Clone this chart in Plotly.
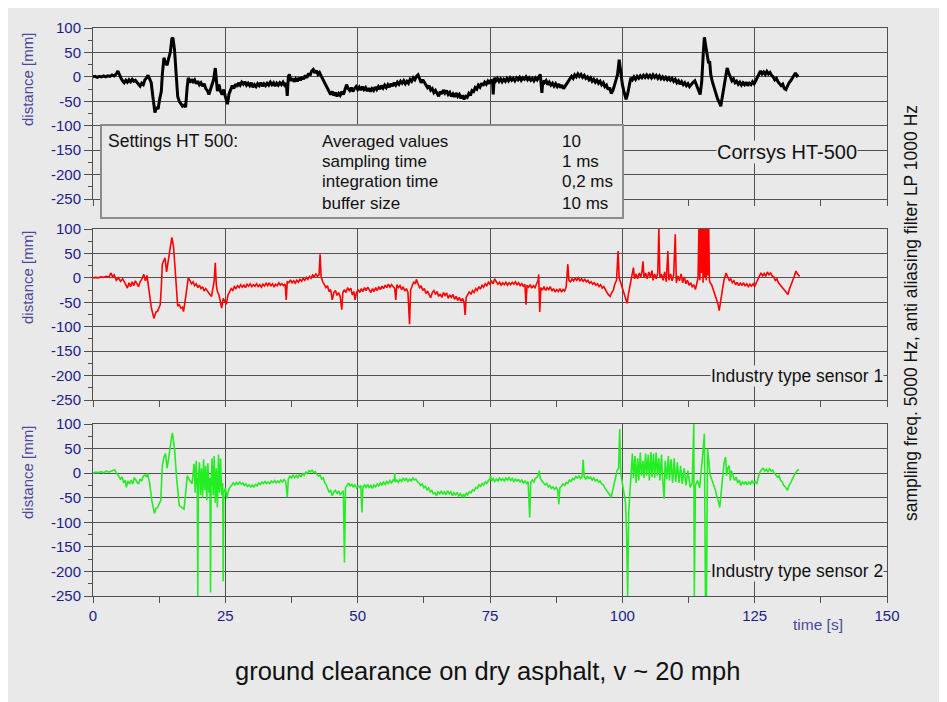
import plotly.graph_objects as go

# ---------------- data (time [s], distance [mm]) ----------------
ht500 = [(0,0),(0.4,1),(0.8,-1),(1.2,1),(1.6,0),(2,2),(2.4,0),(2.8,2),(3.2,1),(3.6,4),(4,2),(4.4,6),(4.7,12),
 (5,2),(5.3,-3),(5.6,-8),(5.9,-12),(6.2,-7),(6.5,-11),(6.8,-6),(7.1,-10),(7.4,-5),(7.7,-9),(8,-7),(8.3,-12),
 (8.6,-15),(8.9,-19),(9.2,-13),(9.5,-16),(9.8,-6),(10.1,-2),(10.4,3),(10.7,-4),(11,-12),(11.3,-40),(11.7,-73),
 (12,-62),(12.3,-66),(12.6,-45),(12.9,-30),(13.1,5),(13.4,39),(13.7,28),(14,24),(14.3,38),(14.6,50),(14.9,78),
 (15.1,80),(15.4,55),(15.7,15),(16,-40),(16.3,-50),(16.6,-56),(16.9,-60),(17.2,-58),(17.5,-62),(17.8,-20),
 (18,-2),(18.3,-12),(18.6,-5),(18.9,-10),(19.2,-6),(19.5,-14),(19.8,-9),(20.1,-16),(20.4,-12),(20.7,-19),
 (21,-14),(21.3,-24),(21.6,-28),(21.9,-36),(22.2,-25),(22.5,-15),(22.8,-5),(23.1,18),(23.3,-10),(23.5,-29),
 (23.8,-16),(24.1,-30),(24.4,-36),(24.7,-26),(25,-40),(25.4,-56),(25.7,-35),(26,-26),(26.3,-18),(26.6,-24),
 (26.9,-15),(27.2,-20),(27.5,-12),(27.8,-17),(28.1,-11),(28.4,-15),(28.7,-10),(29,-17),(29.3,-13),(29.6,-18),
 (29.9,-12),(30.2,-21),(30.5,-16),(30.8,-20),(31.1,-14),(31.4,-18),(31.7,-12),(32,-19),(32.3,-14),(32.6,-18),
 (32.9,-13),(33.2,-17),(33.5,-11),(33.8,-16),(34.1,-12),(34.4,-19),(34.7,-13),(35,-17),(35.3,-12),(35.6,-16),
 (35.9,-11),(36.2,-17),(36.5,-13),(36.7,-39),(36.9,0),(37.1,5),(37.4,-8),(37.7,-3),(38,-10),(38.3,-4),(38.6,-9),
 (38.9,-2),(39.2,-7),(39.5,0),(39.8,-5),(40.1,3),(40.4,-2),(40.7,7),(41,3),(41.3,12),(41.6,15),(41.9,8),
 (42.2,13),(42.5,5),(42.8,9),(43.1,2),(43.4,-5),(43.7,-12),(44,-18),(44.3,-26),(44.6,-30),(44.9,-36),(45.2,-30),
 (45.5,-38),(45.8,-32),(46.1,-40),(46.4,-34),(46.7,-38),(47,-30),(47.3,-36),(47.6,-25),(47.9,-16),(48.2,-24),
 (48.5,-28),(48.8,-22),(49.1,-30),(49.4,-24),(49.7,-20),(50,-26),(50.3,-21),(50.6,-27),(50.9,-20),(51.2,-26),
 (51.5,-22),(51.8,-29),(52.1,-23),(52.4,-30),(52.7,-24),(53,-28),(53.3,-21),(53.6,-26),(53.9,-20),(54.2,-25),
 (54.5,-18),(54.8,-23),(55.1,-17),(55.4,-22),(55.7,-16),(56,-21),(56.3,-14),(56.6,-19),(56.9,-12),(57.2,-17),
 (57.5,-11),(57.8,-15),(58.1,-9),(58.4,-13),(58.7,-8),(59,-14),(59.3,-9),(59.6,-13),(59.9,-5),(60.2,-9),
 (60.5,-2),(60.8,-6),(61.1,1),(61.4,4),(61.7,-4),(62,-12),(62.3,-6),(62.6,-12),(62.9,-16),(63.2,-22),(63.5,-18),
 (63.8,-27),(64.1,-24),(64.4,-32),(64.7,-28),(65,-36),(65.3,-40),(65.6,-30),(65.9,-35),(66.2,-27),(66.5,-33),
 (66.8,-28),(67.1,-36),(67.4,-32),(67.7,-40),(68,-35),(68.3,-41),(68.6,-33),(68.9,-40),(69.2,-36),(69.5,-44),
 (69.8,-38),(70.1,-46),(70.4,-40),(70.7,-42),(71,-34),(71.3,-38),(71.6,-28),(71.9,-30),(72.2,-22),(72.5,-25),
 (72.8,-17),(73.1,-21),(73.4,-13),(73.7,-18),(74,-11),(74.3,-15),(74.6,-9),(74.9,-14),(75.2,-6),(75.5,-12),
 (75.6,-36),(75.8,-2),(76.1,-8),(76.4,-3),(76.7,-9),(77,-4),(77.3,-10),(77.6,-5),(77.9,-9),(78.2,-3),(78.5,-8),
 (78.8,-2),(79.1,-7),(79.4,-3),(79.7,-8),(80,-2),(80.3,-6),(80.6,-1),(80.9,-7),(81.2,-2),(81.5,-5),(81.8,0),
 (82.1,-6),(82.4,-2),(82.7,-7),(83,-3),(83.3,-8),(83.6,-2),(83.9,-6),(84.2,-1),(84.5,5),(84.8,-33),(85,-8),
 (85.3,-12),(85.6,-8),(85.9,-16),(86.2,-11),(86.5,-17),(86.8,-13),(87.1,-19),(87.4,-14),(87.7,-20),(88,-15),
 (88.3,-22),(88.6,-17),(88.9,-24),(89.2,-19),(89.5,-14),(89.8,-8),(90.1,-3),(90.4,1),(90.7,-3),(91,4),(91.3,0),
 (91.6,6),(91.9,1),(92.2,5),(92.5,-1),(92.8,3),(93.1,-3),(93.4,0),(93.7,-6),(94,-2),(94.3,-9),(94.6,-5),
 (94.9,-11),(95.2,-7),(95.5,-13),(95.8,-9),(96.1,-16),(96.4,-12),(96.7,-20),(97,-17),(97.3,-26),(97.6,-22),
 (97.9,-34),(98.2,-28),(98.5,-18),(98.8,-8),(99.1,5),(99.4,35),(99.7,5),(100,-15),(100.3,-30),(100.7,-46),
 (101,-35),(101.3,-15),(101.6,-2),(101.9,-6),(102.2,0),(102.5,-5),(102.8,1),(103.1,-3),(103.4,2),(103.7,-2),
 (104,3),(104.3,-1),(104.6,4),(104.9,-1),(105.2,3),(105.5,-2),(105.8,4),(106.1,-1),(106.4,3),(106.7,-3),(107,2),
 (107.3,-4),(107.6,0),(107.9,-5),(108.2,-1),(108.5,-6),(108.8,-2),(109.1,-7),(109.4,-3),(109.7,-9),(110,-5),
 (110.3,-12),(110.6,-8),(110.9,-15),(111.2,-10),(111.5,-16),(111.8,-12),(112.1,-18),(112.4,-14),(112.7,-20),
 (113,-15),(113.3,-12),(113.7,-8),(114,-18),(114.3,-25),(114.7,-36),(115,-10),(115.3,50),(115.5,81),(115.8,60),
 (116,45),(116.3,28),(116.5,32),(116.7,5),(117,-10),(117.3,-22),(117.6,-30),(118,-45),(118.3,-52),(118.6,-60),
 (118.9,-40),(119.2,-20),(119.5,0),(119.8,18),(120.1,8),(120.4,-2),(120.7,-8),(121,-4),(121.3,-12),(121.6,-9),
 (121.9,-15),(122.2,-11),(122.5,-17),(122.8,-12),(123.1,-16),(123.4,-11),(123.7,-18),(124,-13),(124.3,-16),
 (124.6,-10),(124.9,-14),(125.2,-8),(125.5,-2),(125.8,5),(126.1,12),(126.4,6),(126.7,10),(127,5),(127.3,11),
 (127.6,6),(127.9,9),(128.2,3),(128.5,0),(128.8,-6),(129.1,-3),(129.4,-10),(129.7,-14),(130,-18),(130.3,-15),
 (130.6,-24),(130.9,-26),(131.2,-18),(131.5,-12),(131.8,-8),(132.1,-2),(132.4,3),(132.7,8),(133,2),(133.3,4)]

sensor1 = [(0,0),(0.5,1),(1,0),(1.5,2),(2,1),(2.5,3),(3,1),(3.4,10),(3.7,2),(4,6),(4.4,-5),(4.8,0),(5.2,-7),
 (5.6,-2),(6,-10),(6.3,-16),(6.5,-21),(6.8,-10),(7.1,-18),(7.4,-8),(7.7,-16),(8,-6),(8.3,-12),(8.6,-18),(8.9,-8),
 (9.2,-3),(9.6,7),(9.9,-6),(10.2,5),(10.5,-21),(11,-60),(11.5,-83),(11.9,-70),(12.2,-68),(12.7,-55),(12.9,-20),
 (13.1,28),(13.4,36),(13.6,41),(13.9,12),(14.2,30),(14.5,55),(14.9,83),(15.2,65),(15.5,20),(15.7,-10),(16,-58),
 (16.3,-55),(16.6,-62),(16.9,-60),(17.1,-69),(17.5,-40),(17.8,-10),(18,0),(18.3,-5),(18.6,-12),(18.9,-8),
 (19.2,-16),(19.5,-12),(19.8,-20),(20.1,-15),(20.4,-22),(20.7,-18),(21,-27),(21.3,-22),(21.7,-30),(22,-33),
 (22.4,-38),(22.7,-20),(22.9,-5),(23.1,31),(23.3,-15),(23.5,-28),(23.8,-35),(24,-45),(24.3,-62),(24.6,-42),
 (24.9,-50),(25.2,-54),(25.5,-35),(25.8,-28),(26.1,-22),(26.4,-26),(26.7,-18),(27,-22),(27.3,-16),(27.6,-20),
 (27.9,-14),(28.2,-19),(28.5,-15),(28.8,-20),(29.1,-13),(29.4,-17),(29.7,-12),(30,-18),(30.3,-14),(30.6,-17),
 (30.9,-12),(31.2,-18),(31.5,-14),(31.8,-19),(32.1,-13),(32.4,-17),(32.7,-11),(33,-16),(33.3,-10),(33.6,-17),
 (33.9,-12),(34.2,-18),(34.5,-13),(34.8,-16),(35.1,-10),(35.4,-15),(35.7,-12),(36,-16),(36.3,-13),(36.5,-45),
 (36.7,-8),(37,-10),(37.3,-4),(37.6,-10),(37.9,-6),(38.2,-11),(38.5,-5),(38.8,-9),(39.1,-3),(39.4,-7),(39.7,-1),
 (40,-5),(40.3,1),(40.6,-3),(40.9,3),(41.2,-1),(41.5,6),(41.8,2),(42.1,8),(42.4,3),(42.7,6),(42.9,48),(43.1,2),
 (43.4,-8),(43.7,-14),(44,-20),(44.3,-16),(44.6,-28),(44.9,-24),(45.2,-45),(45.5,-30),(45.8,-26),(46.1,-36),
 (46.4,-30),(46.7,-38),(47,-65),(47.2,-30),(47.5,-24),(47.8,-30),(48.1,-20),(48.4,-26),(48.7,-21),(49,-35),
 (49.3,-28),(49.5,-45),(49.8,-30),(50.1,-24),(50.4,-30),(50.7,-22),(51,-28),(51.3,-20),(51.6,-26),(51.9,-19),
 (52.2,-25),(52.5,-30),(52.8,-22),(53.1,-28),(53.4,-20),(53.7,-26),(54,-18),(54.3,-24),(54.6,-17),(54.9,-22),
 (55.2,-15),(55.5,-20),(55.8,-13),(56.1,-19),(56.4,-14),(56.7,-18),(57,-22),(57.2,-45),(57.4,-14),(57.7,-20),
 (58,-16),(58.3,-24),(58.6,-18),(58.9,-27),(59.2,-22),(59.5,-30),(59.8,-95),(60,-25),(60.3,-15),(60.6,-8),
 (60.9,-12),(61.1,-3),(61.4,-12),(61.7,-20),(62,-16),(62.3,-26),(62.6,-22),(62.9,-32),(63.2,-27),(63.5,-36),
 (63.8,-41),(64.1,-30),(64.4,-26),(64.7,-34),(65,-28),(65.3,-38),(65.6,-33),(65.9,-40),(66.2,-30),(66.5,-36),
 (66.8,-31),(67.1,-42),(67.4,-35),(67.7,-40),(68,-34),(68.3,-44),(68.6,-38),(68.9,-46),(69.2,-40),(69.5,-48),
 (69.8,-42),(70.1,-50),(70.3,-76),(70.5,-40),(70.8,-35),(71.1,-28),(71.4,-34),(71.7,-26),(72,-30),(72.3,-22),
 (72.6,-26),(72.9,-18),(73.2,-23),(73.5,-15),(73.8,-19),(74.1,-12),(74.4,-16),(74.7,-9),(75,-13),(75.3,-7),
 (75.6,-12),(75.9,-2),(76.2,-8),(76.5,-13),(76.8,-9),(77.1,-15),(77.4,-10),(77.7,-14),(78,-9),(78.3,-15),
 (78.6,-10),(78.9,-14),(79.2,-9),(79.5,-13),(79.8,-8),(80.1,-14),(80.4,-10),(80.7,-16),(81,-12),(81.3,-17),
 (81.6,-13),(81.8,-55),(82,-15),(82.3,-19),(82.6,-14),(82.9,-21),(83.2,-16),(83.5,-20),(83.8,-12),(84.1,-5),
 (84.2,7),(84.4,-70),(84.6,-20),(84.9,-25),(85.2,-18),(85.5,-26),(85.8,-20),(86.1,-24),(86.4,-18),(86.7,-27),
 (87,-22),(87.3,-29),(87.6,-24),(87.9,-28),(88.2,-22),(88.5,-29),(88.8,-24),(89.1,-27),(89.4,-18),(89.7,28),
 (89.9,-5),(90.2,-8),(90.5,-2),(90.8,-6),(91.1,-1),(91.4,-5),(91.7,0),(92,-6),(92.3,-2),(92.6,-7),(92.9,-3),
 (93.2,-8),(93.5,-5),(93.8,-11),(94.1,-8),(94.4,-13),(94.7,-10),(95,-15),(95.3,-12),(95.6,-18),(95.9,-14),
 (96.2,-21),(96.5,-18),(96.8,-26),(97.1,-30),(97.4,-35),(97.7,-38),(98,-30),(98.3,-25),(98.6,-12),(98.9,-5),
 (99.2,55),(99.4,0),(99.7,-10),(100,-20),(100.3,-32),(100.6,-45),(100.9,-52),(101.2,-30),(101.5,-10),(101.8,5),
 (102.1,21),(102.3,-2),(102.6,8),(102.9,-2),(103.2,10),(103.5,2),(103.7,12),(103.9,34),(104.1,0),(104.4,10),
 (104.7,-2),(105,12),(105.3,2),(105.6,15),(105.8,-5),(106.1,8),(106.4,-2),(106.7,10),(106.9,100),(107.1,0),
 (107.4,8),(107.7,-5),(108,12),(108.3,-8),(108.6,55),(108.8,-5),(109.1,8),(109.4,-6),(109.7,6),(110,89),
 (110.2,-10),(110.5,4),(110.8,-6),(111.1,8),(111.4,-10),(111.7,2),(112,-12),(112.3,-5),(112.6,-15),(112.9,-10),
 (113.2,-18),(113.5,-14),(113.8,-24),(114.1,-10),(114.3,0),(114.5,120),(114.65,-5),(114.8,120),(114.95,10),
 (115.1,120),(115.25,-10),(115.4,120),(115.55,0),(115.7,120),(115.85,-5),(116,120),(116.15,5),(116.3,120),
 (116.45,-5),(116.6,-10),(116.9,-15),(117.2,-25),(117.5,-35),(117.8,-45),(118.1,-55),(118.3,-67),(118.6,-40),
 (118.9,-25),(119.2,-5),(119.6,10),(119.9,2),(120.2,-5),(120.5,-2),(120.8,-10),(121.1,-6),(121.4,-14),
 (121.7,-9),(122,-16),(122.3,-11),(122.6,-15),(122.9,-10),(123.2,-17),(123.5,-12),(123.8,-18),(124.1,-13),
 (124.4,-17),(124.7,-12),(125,-18),(125.3,-10),(125.6,-4),(125.9,5),(126.2,10),(126.5,4),(126.8,9),(127.1,3),
 (127.4,12),(127.7,6),(128,10),(128.3,4),(128.6,2),(128.9,-5),(129.2,-2),(129.5,-10),(129.8,-14),(130.1,-18),
 (130.4,-22),(130.7,-26),(131,-30),(131.3,-34),(131.6,-22),(131.9,-15),(132.2,-5),(132.5,4),(132.8,14),
 (133.1,8),(133.5,3)]

sensor2 = [(0,0),(0.5,2),(1,1),(1.5,3),(2,1),(2.5,4),(3,2),(3.5,5),(4.1,7),(4.4,1),(4.6,-2),(4.9,-8),(5.2,-12),
 (5.5,-8),(5.8,-20),(6.1,-14),(6.3,-29),(6.6,-16),(6.9,-22),(7.2,-14),(7.5,-22),(7.8,-10),(8,-12),(8.3,-18),
 (8.6,-22),(8.9,-12),(9.2,-16),(9.5,-6),(9.8,-4),(10.1,-8),(10.3,-1),(10.5,-10),(10.7,-20),(11.1,-55),
 (11.6,-82),(11.9,-72),(12.2,-70),(12.5,-62),(12.8,-56),(13.1,15),(13.4,33),(13.7,40),(14,10),(14.3,30),
 (14.5,50),(14.8,70),(15,82),(15.2,68),(15.4,50),(15.8,-10),(16.3,-66),(16.8,-70),(17.2,-73),(17.6,-30),
 (17.8,-5),(18.3,-15),(18.7,-22),(19.1,19),(19.3,-40),(19.5,25),(19.7,-30),(19.8,-250),(19.9,-20),(20.1,22),
 (20.3,-45),(20.5,10),(20.7,-50),(20.9,28),(21.1,-35),(21.3,15),(21.5,-55),(21.7,20),(21.9,-40),(22.1,-10),
 (22.2,-243),(22.3,-30),(22.5,30),(22.7,-45),(22.9,35),(23.1,-60),(23.3,10),(23.5,-70),(23.7,38),(23.9,-40),
 (24.1,30),(24.3,-45),(24.5,-20),(24.6,-220),(24.7,-40),(25,-30),(25.3,-52),(25.6,-35),(25.9,-28),(26.2,-25),
 (26.5,-20),(26.8,-24),(27.1,-19),(27.4,-23),(27.7,-18),(28,-22),(28.3,-20),(28.6,-25),(28.9,-22),(29.2,-27),
 (29.5,-24),(29.8,-28),(30.1,-24),(30.4,-28),(30.7,-23),(31,-26),(31.3,-20),(31.6,-23),(31.9,-18),(32.2,-21),
 (32.5,-17),(32.8,-21),(33.1,-18),(33.4,-21),(33.7,-16),(34,-19),(34.3,-15),(34.6,-20),(34.9,-16),(35.2,-19),
 (35.5,-14),(35.8,-18),(36.1,-13),(36.4,-17),(36.7,-49),(36.9,-12),(37.2,-6),(37.5,-10),(37.8,-4),(38.1,-9),
 (38.4,-5),(38.7,-9),(39,-3),(39.3,-7),(39.6,-1),(39.9,-4),(40.2,2),(40.5,-1),(40.8,5),(41.1,3),(41.4,6),
 (41.7,1),(42,3),(42.3,-3),(42.6,-6),(42.9,-4),(43.2,-12),(43.5,-10),(43.8,-20),(44.1,-25),(44.4,-32),
 (44.6,-39),(44.9,-34),(45.2,-46),(45.5,-38),(45.8,-35),(46.1,-42),(46.4,-36),(46.7,-44),(47,-40),(47.3,-36),
 (47.5,-182),(47.7,-30),(48,-25),(48.3,-20),(48.6,-27),(48.9,-22),(49.2,-29),(49.5,-24),(49.8,-30),(50.1,-26),
 (50.4,-29),(50.6,-25),(50.8,-80),(51,-28),(51.3,-24),(51.6,-29),(51.9,-23),(52.2,-30),(52.5,-25),(52.8,-31),
 (53.1,-24),(53.4,-28),(53.7,-22),(54,-26),(54.3,-20),(54.6,-24),(54.9,-18),(55.2,-23),(55.5,-17),(55.8,-21),
 (56.1,-15),(56.4,-20),(56.7,-14),(56.9,-16),(57,0),(57.1,-18),(57.4,-14),(57.7,-19),(58,-13),(58.3,-17),
 (58.6,-10),(58.9,-15),(59.2,-11),(59.5,-17),(59.8,-12),(60.1,-16),(60.4,-10),(60.7,-14),(61,-12),(61.3,-18),
 (61.6,-20),(61.9,-25),(62.2,-22),(62.5,-30),(62.8,-27),(63.1,-34),(63.4,-30),(63.7,-38),(64,-35),(64.3,-42),
 (64.6,-40),(64.9,-46),(65.2,-38),(65.5,-42),(65.8,-36),(66.1,-43),(66.4,-38),(66.7,-44),(67,-36),(67.3,-42),
 (67.6,-38),(67.9,-46),(68.2,-40),(68.5,-44),(68.8,-39),(69.1,-47),(69.4,-42),(69.7,-48),(70,-43),(70.2,-49),
 (70.5,-40),(70.8,-44),(71.1,-38),(71.4,-40),(71.7,-34),(72,-36),(72.3,-29),(72.6,-31),(72.9,-24),(73.2,-27),
 (73.5,-21),(73.8,-24),(74.1,-18),(74.4,-21),(74.7,-15),(75,-12),(75.1,-5),(75.3,-16),(75.6,-11),(75.9,-17),
 (76.2,-12),(76.5,-16),(76.8,-10),(77.1,-15),(77.4,-11),(77.7,-16),(78,-10),(78.3,-14),(78.6,-9),(78.9,-15),
 (79.2,-11),(79.5,-17),(79.8,-12),(80.1,-16),(80.4,-13),(80.7,-18),(81,-14),(81.3,-20),(81.6,-16),(81.9,-21),
 (82.2,-17),(82.5,-90),(82.7,-18),(83,-14),(83.3,-18),(83.6,-10),(83.9,-8),(84.2,-2),(84.3,5),(84.5,-10),
 (84.8,-16),(85.1,-20),(85.4,-24),(85.7,-21),(86,-28),(86.3,-25),(86.6,-31),(86.9,-28),(87.2,-33),(87.5,-29),
 (87.8,-35),(88,-63),(88.2,-30),(88.5,-26),(88.8,-22),(89.1,-25),(89.4,-19),(89.7,-21),(90,-14),(90.3,-17),
 (90.6,-11),(90.9,-13),(91.2,-7),(91.5,-10),(91.8,-6),(92.1,-11),(92.4,-8),(92.6,27),(92.8,-8),(93.1,-12),
 (93.4,-7),(93.7,-11),(94,-8),(94.3,-14),(94.6,-10),(94.9,-16),(95.2,-13),(95.5,-18),(95.8,-16),(96.1,-22),
 (96.4,-24),(96.7,-30),(97,-34),(97.3,-38),(97.6,-44),(97.9,-49),(98.2,-35),(98.5,-20),(98.8,-5),(99,5),
 (99.3,10),(99.5,90),(99.7,0),(99.9,-15),(100.2,-30),(100.6,-60),(100.8,-120),(101,-250),(101.2,-80),
 (101.4,-40),(101.6,0),(101.9,40),(102.1,-10),(102.4,35),(102.6,-20),(102.9,30),(103.1,-15),(103.4,42),
 (103.6,-5),(103.9,25),(104.1,-10),(104.4,40),(104.6,-5),(104.9,38),(105.1,-15),(105.4,43),(105.6,-8),
 (105.9,40),(106.1,-10),(106.4,42),(106.6,-5),(106.9,30),(107.1,-15),(107.4,38),(107.6,-10),(107.9,-52),
 (108.1,25),(108.4,-12),(108.7,35),(108.9,-15),(109.2,28),(109.5,-20),(109.8,30),(110.1,-18),(110.4,22),
 (110.7,-20),(111,15),(111.3,-22),(111.7,10),(112,-25),(112.4,5),(112.8,-29),(113.2,-20),(113.5,100),
 (113.6,-250),(113.8,-25),(114.2,-15),(114.6,-30),(115.2,40),(115.5,80),(115.7,-250),(115.9,-250),(116.1,50),
 (116.4,20),(116.6,-5),(116.8,-10),(117.1,-18),(117.3,-25),(117.6,-35),(117.8,-45),(118.1,-55),(118.4,-70),
 (118.7,-40),(118.9,-20),(119.2,20),(119.5,33),(119.7,-5),(119.9,10),(120.2,15),(120.4,-15),(120.6,5),
 (120.9,-5),(121.2,-15),(121.5,-8),(121.8,-20),(122.1,-14),(122.4,-25),(122.7,-18),(123,-22),(123.3,-17),
 (123.6,-24),(123.9,-18),(124.2,-22),(124.5,-16),(124.8,-21),(125.1,-17),(125.4,-22),(125.7,-8),(126,2),
 (126.3,7),(126.6,10),(126.9,4),(127.2,8),(127.5,3),(127.8,9),(128.1,4),(128.4,6),(128.7,0),(129,-3),(129.3,-8),
 (129.6,-5),(129.9,-15),(130.2,-18),(130.5,-25),(130.8,-28),(131.2,-35),(131.5,-25),(131.8,-20),(132.1,-12),
 (132.4,-5),(132.7,0),(133,5),(133.4,7)]

panel_labels = ["Corrsys HT-500", "Industry type sensor 1", "Industry type sensor 2"]
settings_names = ["Averaged values", "sampling time", "integration time", "buffer size"]
settings_values = ["10", "1 ms", "0,2 ms", "10 ms"]
x_ticks = [0, 25, 50, 75, 100, 125, 150]
y_ticks = [100, 50, 0, -50, -100, -150, -200, -250]

# ---------------- layout helpers (screen pixel -> paper fraction) ----------------
OFF = 8                      # page body margin
W, H = 947 - OFF, 702 - OFF  # figure size
L, R, T, B = 93, 887, 28, 596  # plot area in screen pixels
def px(x): return (x - L) / (R - L)
def py(y): return (B - y) / (B - T)

BG = "#e9e9e9"
GRID = "#505050"
TICKC = "#1c1c8a"
TITLEC = "#4a4a9c"
FONT = "Liberation Sans, Arial, sans-serif"

fig = go.Figure()
series = [(ht500, "#000000", 3.0), (sensor1, "#ff0000", 1.6), (sensor2, "#22ee22", 1.6)]
for i, (data, col, w) in enumerate(series):
    t = [p[0] for p in data]
    v = [p[1] for p in data]
    fig.add_trace(go.Scatter(x=t, y=v, mode="lines", line=dict(color=col, width=w),
                             xaxis="x" + ("" if i == 0 else str(i + 1)),
                             yaxis="y" + ("" if i == 0 else str(i + 1)),
                             showlegend=False, hoverinfo="skip"))

domains = [(py(199), py(28)), (py(400), py(229)), (py(596), py(424))]
lay = {}
for i in range(3):
    s = "" if i == 0 else str(i + 1)
    lay["xaxis" + s] = dict(domain=[0, 1], anchor="y" + s, range=[0, 150],
                            tickvals=x_ticks, ticktext=[str(v) for v in x_ticks],
                            showgrid=True, gridcolor=GRID, gridwidth=1,
                            showline=True, linecolor=GRID, linewidth=1, mirror=True,
                            ticks="outside", ticklen=6, tickcolor=GRID,
                            minor=dict(dtick=12.5, tick0=0, ticks="outside", ticklen=6,
                                       tickcolor=GRID, showgrid=False),
                            showticklabels=(i == 2), zeroline=False,
                            tickfont=dict(family=FONT, size=15, color=TICKC))
    lay["yaxis" + s] = dict(domain=list(domains[i]), anchor="x" + s, range=[-250, 100],
                            tickvals=y_ticks, ticktext=[str(v) for v in y_ticks],
                            showgrid=True, gridcolor=GRID, gridwidth=1,
                            showline=True, linecolor=GRID, linewidth=1, mirror=True,
                            ticks="outside", ticklen=8, tickcolor=GRID,
                            minor=dict(dtick=25, tick0=0, ticks="outside", ticklen=4,
                                       tickcolor=GRID, showgrid=False),
                            zeroline=False,
                            tickfont=dict(family=FONT, size=15, color=TICKC))

fig.update_layout(width=W, height=H,
                  margin=dict(l=L - OFF, r=W - (R - OFF), t=T - OFF, b=H - (B - OFF)),
                  paper_bgcolor="white", plot_bgcolor="rgba(0,0,0,0)",
                  font=dict(family=FONT), **lay)

shapes = [dict(type="rect", xref="paper", yref="paper", x0=px(8), x1=px(943), y0=py(702), y1=py(8),
               fillcolor=BG, line=dict(width=0), layer="below"),
          dict(type="rect", xref="paper", yref="paper", x0=px(101), x1=px(623), y0=py(218), y1=py(125),
               fillcolor=BG, line=dict(color="#8c8c8c", width=2), layer="above")]
fig.update_layout(shapes=shapes)

ann = []
for yc in [80, 278, 473]:
    ann.append(dict(text="distance [mm]", xref="paper", yref="paper", x=px(27), y=py(yc),
                    textangle=-90, showarrow=False, xanchor="center", yanchor="middle",
                    font=dict(family=FONT, size=15, color=TITLEC)))
ann.append(dict(text=panel_labels[0], xref="paper", yref="paper", x=px(787), y=py(152),
                showarrow=False, xanchor="center", yanchor="middle", bgcolor=BG, borderpad=0,
                font=dict(family=FONT, size=20, color="#111111")))
for lab, yc in [(panel_labels[1], 376), (panel_labels[2], 571)]:
    ann.append(dict(text=lab, xref="paper", yref="paper", x=px(884), y=py(yc),
                    showarrow=False, xanchor="right", yanchor="middle", bgcolor=BG, borderpad=0,
                    font=dict(family=FONT, size=17.5, color="#111111")))
ann.append(dict(text="Settings HT 500:", xref="paper", yref="paper", x=px(106), y=py(141),
                showarrow=False, xanchor="left", yanchor="middle",
                font=dict(family=FONT, size=17.5, color="#111111")))
for k, (nm, val) in enumerate(zip(settings_names, settings_values)):
    yc = [141, 161.5, 182, 203][k]
    ann.append(dict(text=nm, xref="paper", yref="paper", x=px(320), y=py(yc), showarrow=False,
                    xanchor="left", yanchor="middle", font=dict(family=FONT, size=17, color="#111111")))
    ann.append(dict(text=val, xref="paper", yref="paper", x=px(560), y=py(yc), showarrow=False,
                    xanchor="left", yanchor="middle", font=dict(family=FONT, size=17, color="#111111")))
ann.append(dict(text="sampling freq. 5000 Hz, anti aliasing filter LP 1000 Hz", xref="paper", yref="paper",
                x=px(911), y=py(313), textangle=-90, showarrow=False, xanchor="center", yanchor="middle",
                font=dict(family=FONT, size=17.5, color="#111111")))
ann.append(dict(text="time [s]", xref="paper", yref="paper", x=px(818), y=py(624), showarrow=False,
                xanchor="center", yanchor="middle", font=dict(family=FONT, size=15.5, color=TITLEC)))
ann.append(dict(text="ground clearance on dry asphalt, v ~ 20 mph", xref="paper", yref="paper",
                x=px(487), y=py(671), showarrow=False, xanchor="center", yanchor="middle",
                font=dict(family=FONT, size=25.5, color="#111111")))
fig.update_layout(annotations=ann)

fig.write_html("out.html")
